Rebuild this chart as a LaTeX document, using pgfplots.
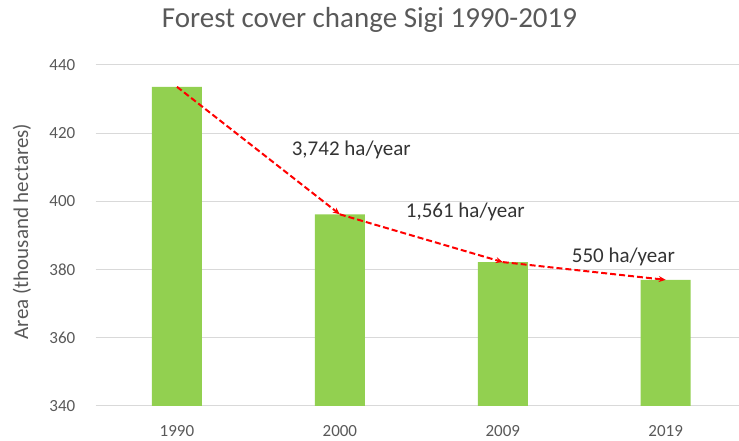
\documentclass[border=0pt]{standalone}
\usepackage{pgfplots}
\pgfplotsset{compat=1.18}
\usepackage{fontspec}
\setmainfont{Carlito}
\usetikzlibrary{arrows.meta}
\definecolor{bargreen}{HTML}{92D050}
\definecolor{txt}{HTML}{595959}
\definecolor{gridc}{HTML}{D9D9D9}
\definecolor{arrred}{HTML}{FF0000}
\begin{document}
\begin{tikzpicture}
\path[use as bounding box] (0pt,0pt) rectangle (739pt,441pt);
\begin{axis}[at={(95.5pt,35pt)}, anchor=south west, scale only axis,
  width=643.5pt, height=341pt,
  xmin=-0.5, xmax=3.45, ymin=340, ymax=440,
  ytick={340,360,380,400,420,440},
  xtick={0,1,2,3}, xticklabels={1990,2000,2009,2019},
  axis line style={draw=none}, major tick length=0pt,
  ymajorgrids, grid style={draw=gridc, line width=1pt},
  /pgf/number format/assume math mode=true,
  tick label style={font=\fontsize{17}{17}\selectfont, text=txt},
  yticklabel style={inner sep=0pt, anchor=east, xshift=-20pt},
  xticklabel style={inner sep=0pt, anchor=north, yshift=-19pt},
  clip=false]
\addplot[ybar, bar width=50pt, fill=bargreen, draw=none] coordinates {(0,433.6) (1,396.2) (2,382.2) (3,377.0)};
\addplot[arrred, line width=2pt, dash pattern=on 6pt off 3pt, -{Stealth[length=7pt,width=6pt]}] coordinates {(0,433.6) (1,396.2)};
\addplot[arrred, line width=2pt, dash pattern=on 6pt off 3pt, -{Stealth[length=7pt,width=6pt]}] coordinates {(1,396.2) (2,382.2)};
\addplot[arrred, line width=2pt, dash pattern=on 6pt off 3pt, -{Stealth[length=7pt,width=6pt]}] coordinates {(2,382.2) (3,377.0)};
\node[font=\fontsize{21}{21}\selectfont, text=black!80] at (axis cs:1.07,415.1) {3,742 ha/year};
\node[font=\fontsize{21}{21}\selectfont, text=black!80] at (axis cs:1.77,396.9) {1,561 ha/year};
\node[font=\fontsize{21}{21}\selectfont, text=black!80] at (axis cs:2.74,383.7) {550 ha/year};
\end{axis}
\node[font=\fontsize{29}{29}\selectfont, text=txt] at (369.5pt,421pt) {Forest cover change Sigi 1990-2019};
\node[font=\fontsize{21}{21}\selectfont, text=txt, rotate=90] at (22pt,209.5pt) {Area (thousand hectares)};
\end{tikzpicture}
\end{document}
